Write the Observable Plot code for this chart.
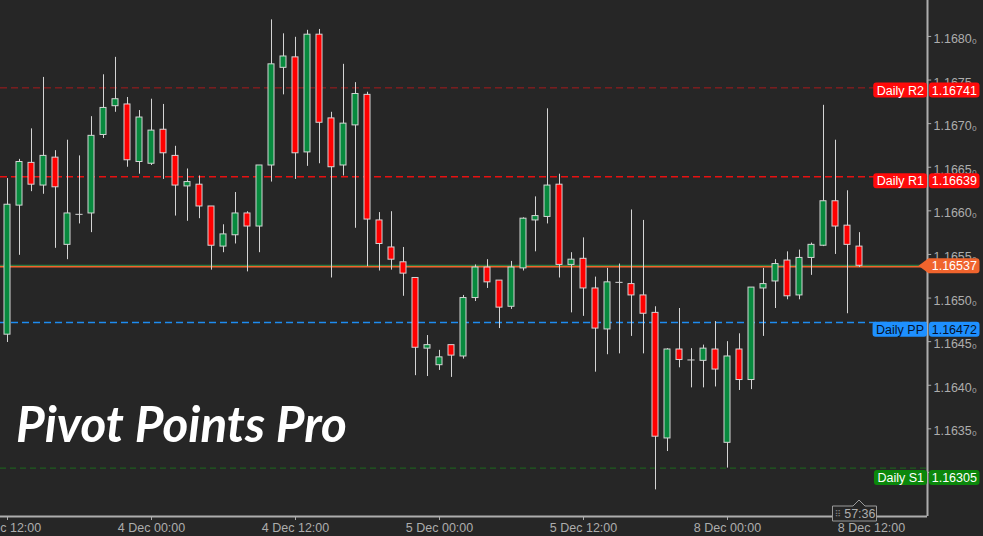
<!DOCTYPE html>
<html><head><meta charset="utf-8">
<script src="https://cdn.jsdelivr.net/npm/d3@7"></script>
<script src="https://cdn.jsdelivr.net/npm/@observablehq/plot@0.6"></script>
<style>
html,body{margin:0;padding:0;background:#262626;overflow:hidden}
#chart svg{display:block}
</style></head><body><div id="chart"></div>
<script>
// ---------- data ----------
const tickIdx = [0, 12, 24, 36, 48, 60, 72];
const tickLabels = ["3 Dec 12:00", "4 Dec 00:00", "4 Dec 12:00", "5 Dec 00:00", "5 Dec 12:00", "8 Dec 00:00", "8 Dec 12:00"];

const opens = [1.16458,1.16606,1.16655,1.16629,1.16661,1.16561,1.16596,1.16597,1.16687,1.16720,
1.16722,1.16656,1.16654,1.16693,1.16663,1.16628,1.16630,1.16605,1.16559,1.16572,
1.16597,1.16582,1.16652,1.16764,1.16776,1.16667,1.16802,1.16706,1.16652,1.16698,
1.16733,1.16589,1.16558,1.16541,1.16523,1.16442,1.16423,1.16446,1.16433,1.16500,
1.16535,1.16520,1.16490,1.16534,1.16589,1.16593,1.16630,1.16538,1.16545,1.16511,
1.16464,1.16518,1.16516,1.16503,1.16483,1.16339,1.16441,1.16429,1.16428,1.16441,
1.16334,1.16441,1.16406,1.16511,1.16519,1.16543,1.16503,1.16546,1.16560,1.16611,
1.16583,1.16559];
const highs = [1.16637,1.16659,1.16694,1.16753,1.16669,1.16681,1.16663,1.16708,1.16756,1.16776,
1.16730,1.16715,1.16728,1.16722,1.16674,1.16648,1.16640,1.16605,1.16584,1.16621,
1.16599,1.16652,1.16819,1.16803,1.16799,1.16807,1.16808,1.16713,1.16768,1.16747,
1.16736,1.16598,1.16599,1.16558,1.16523,1.16457,1.16440,1.16446,1.16503,1.16538,
1.16544,1.16520,1.16542,1.16592,1.16616,1.16717,1.16642,1.16552,1.16569,1.16524,
1.16534,1.16539,1.16601,1.16589,1.16490,1.16442,1.16488,1.16442,1.16446,1.16473,
1.16450,1.16459,1.16512,1.16534,1.16544,1.16553,1.16555,1.16563,1.16721,1.16681,
1.16623,1.16575];
const lows = [1.16449,1.16549,1.16622,1.16619,1.16557,1.16544,1.16585,1.16575,1.16683,1.16713,
1.16650,1.16642,1.16652,1.16636,1.16594,1.16588,1.16591,1.16532,1.16552,1.16562,
1.16530,1.16552,1.16633,1.16733,1.16636,1.16651,1.16654,1.16523,1.16640,1.16580,
1.16536,1.16531,1.16532,1.16502,1.16411,1.16410,1.16417,1.16409,1.16430,1.16496,
1.16511,1.16465,1.16487,1.16531,1.16553,1.16585,1.16523,1.16483,1.16479,1.16415,
1.16435,1.16436,1.16456,1.16436,1.16280,1.16324,1.16420,1.16397,1.16397,1.16398,
1.16305,1.16394,1.16395,1.16456,1.16488,1.16498,1.16498,1.16526,1.16559,1.16550,
1.16482,1.16535];
const closes = [1.16607,1.16656,1.16630,1.16663,1.16627,1.16597,1.16596,1.16686,1.16718,1.16728,
1.16658,1.16707,1.16692,1.16666,1.16629,1.16633,1.16605,1.16560,1.16573,1.16597,
1.16582,1.16652,1.16768,1.16777,1.16666,1.16802,1.16701,1.16650,1.16700,1.16734,
1.16590,1.16562,1.16544,1.16528,1.16443,1.16446,1.16432,1.16434,1.16500,1.16535,
1.16518,1.16489,1.16535,1.16591,1.16594,1.16629,1.16538,1.16544,1.16511,1.16465,
1.16518,1.16518,1.16503,1.16482,1.16341,1.16441,1.16429,1.16429,1.16442,1.16418,
1.16433,1.16406,1.16512,1.16516,1.16539,1.16502,1.16546,1.16561,1.16611,1.16582,
1.16561,1.16537];

const levelNames = ["Daily R2", "Daily R1", "Daily PP", "Daily S1"];
const levelValues = [1.16741, 1.16639, 1.16472, 1.16305];
const lastPrice = 1.16537;
const priceTicks = [1.1630, 1.1635, 1.1640, 1.1645, 1.1650, 1.1655, 1.1660, 1.1665, 1.1670, 1.1675, 1.1680];
const titleText = "Pivot Points Pro";
const timerText = "57:36";

// ---------- styles ----------
const FONT = "'Liberation Sans', Arial, 'DejaVu Sans', sans-serif";
const GREEN = "#078a3e", RED = "#ff0000", OUTLINE = "#d4d4d4", AXIS = "#adadad";
const levelStyle = [
  {line: "#a81a1c", width: 1, dash: "7,4", box: "#ff0a0a", text: "#ffffff"},
  {line: "#e81010", width: 1.5, dash: "7,4", box: "#ff0a0a", text: "#ffffff"},
  {line: "#1e8cf0", width: 1.5, dash: "7,4", box: "#1e90ff", text: "#06122a"},
  {line: "#1d6b1d", width: 1, dash: "6,4", box: "#0b870b", text: "#ffffff"}
];

const candles = opens.map((o, i) => ({i, o, h: highs[i], l: lows[i], c: closes[i]}));
const bodies = candles.filter(d => d.o !== d.c);
const dojis = candles.filter(d => d.o === d.c);

const xDomain = [-7 / 12, 920 / 12];
const yDomain = [1.162495, 1.168412];
const pxY = (yDomain[1] - yDomain[0]) / 516;

const plot = Plot.plot({
  width: 983, height: 536,
  marginLeft: 0, marginRight: 56, marginTop: 0, marginBottom: 20,
  style: {background: "#262626", color: AXIS, fontFamily: FONT, fontSize: "12.5px"},
  x: {domain: xDomain, axis: null},
  y: {domain: yDomain, axis: null},
  color: {type: "identity"},
  marks: [
    ...levelValues.map((v, k) => Plot.ruleY([v], {
      stroke: levelStyle[k].line, strokeWidth: levelStyle[k].width, strokeDasharray: levelStyle[k].dash
    })),
    Plot.ruleY([lastPrice], {stroke: "#2f8f45", strokeWidth: 1, dy: -0.5}),
    Plot.ruleY([lastPrice], {stroke: "#f0642d", strokeWidth: 1.5, dy: 1}),
    Plot.ruleX(candles, {x: "i", y1: "l", y2: "h", stroke: OUTLINE, strokeWidth: 1}),
    Plot.rect(bodies, {
      x1: d => d.i - 0.25, x2: d => d.i + 0.25, y1: "o", y2: "c",
      fill: d => d.c > d.o ? GREEN : RED, stroke: OUTLINE, strokeWidth: 1
    }),
    Plot.ruleY(dojis, {y: "o", x1: d => d.i - 0.3, x2: d => d.i + 0.3, stroke: OUTLINE, strokeWidth: 1}),
    // axes
    Plot.ruleX([xDomain[1]], {stroke: AXIS, strokeWidth: 2}),
    Plot.ruleY([yDomain[0]], {stroke: AXIS, strokeWidth: 2}),
    Plot.ruleY(priceTicks, {y: d => d, x1: xDomain[1], x2: xDomain[1] + 0.35, stroke: AXIS}),
    Plot.text(priceTicks, {y: d => d, frameAnchor: "right", text: d => d.toFixed(4) + "\u2080",
      textAnchor: "start", dx: 6, dy: 2.5, fill: AXIS}),
    Plot.ruleX(tickIdx, {x: d => d, y1: yDomain[0], y2: yDomain[0] - 4 * pxY, stroke: AXIS}),
    Plot.text(tickIdx, {x: d => d, frameAnchor: "bottom", text: (d, k) => tickLabels[k], dy: 15, fill: AXIS})
  ]
});
document.getElementById("chart").appendChild(plot);

const xs = plot.scale("x"), ys = plot.scale("y");
const right = xs.apply(xDomain[1]) + 0.5;
const svg = d3.select(plot);
const g = svg.append("g").attr("font-family", FONT).attr("font-size", 12.5);

// title watermark
svg.append("text")
  .attr("x", 16).attr("y", 442).attr("text-anchor", "start")
  .attr("font-family", "Lato, 'Open Sans', sans-serif")
  .attr("font-style", "italic").attr("font-weight", 700)
  .attr("font-size", 50).attr("fill", "#ffffff")
  .attr("textLength", 331).attr("lengthAdjust", "spacingAndGlyphs")
  .text(titleText);

// pivot level labels
levelValues.forEach((v, k) => {
  const st = levelStyle[k];
  const cy = ys.apply(v) * 1.0192 + 1;
  const lg = g.append("g");
  const r1 = lg.append("rect").attr("fill", st.box).attr("rx", 3);
  const t1 = lg.append("text").attr("x", right - 3.5).attr("y", cy).attr("dy", "0.36em")
    .attr("text-anchor", "end").attr("fill", st.text).text(levelNames[k]);
  const w = t1.node().getComputedTextLength();
  r1.attr("x", right - w - 7).attr("y", cy - 7.5).attr("width", w + 6.5).attr("height", 15);
  lg.append("rect").attr("fill", st.box).attr("rx", 3)
    .attr("x", right + 1.5).attr("y", cy - 7.5).attr("width", 50.5).attr("height", 15);
  lg.append("text").attr("x", right + 26.8).attr("y", cy).attr("dy", "0.36em")
    .attr("text-anchor", "middle").attr("fill", st.text).text(v.toFixed(5));
});

// last price tag
{
  const cy = ys.apply(lastPrice) + 0.5;
  const tip = right - 9, bx = right + 1, ex = right + 52;
  g.append("path").attr("fill", "#f0642d")
    .attr("d", `M${tip},${cy} L${bx},${cy - 7.5} H${ex - 3} Q${ex},${cy - 7.5} ${ex},${cy - 4.5} V${cy + 4.5} Q${ex},${cy + 7.5} ${ex - 3},${cy + 7.5} H${bx} Z`);
  g.append("text").attr("x", right + 26.8).attr("y", cy).attr("dy", "0.36em")
    .attr("text-anchor", "middle").attr("fill", "#ffffff").text(lastPrice.toFixed(5));
}

// countdown timer box
{
  const cx = xs.apply(candles.length - 1);
  const top = 506, bot = 521;
  const tg = svg.append("g").attr("font-family", FONT).attr("font-size", 12.5);
  tg.append("path").attr("fill", "#262626").attr("stroke", "#9a9a9a").attr("stroke-width", 1)
    .attr("d", `M${cx - 26.5},${top} H${cx - 6} L${cx},${top - 6} L${cx + 6},${top} H${cx + 17.5} V${bot} H${cx - 26.5} Z`);
  tg.append("text").attr("x", cx - 21).attr("y", (top + bot) / 2).attr("dy", "0.36em")
    .attr("text-anchor", "middle")
    .attr("font-family", "'DejaVu Sans'").attr("font-size", 9).attr("fill", "#808080").text("\u283F");
  tg.append("text").attr("x", cx + 16.5).attr("y", (top + bot) / 2).attr("dy", "0.38em")
    .attr("text-anchor", "end").attr("fill", "#adadad").text(timerText);
}
</script>
</body></html>
